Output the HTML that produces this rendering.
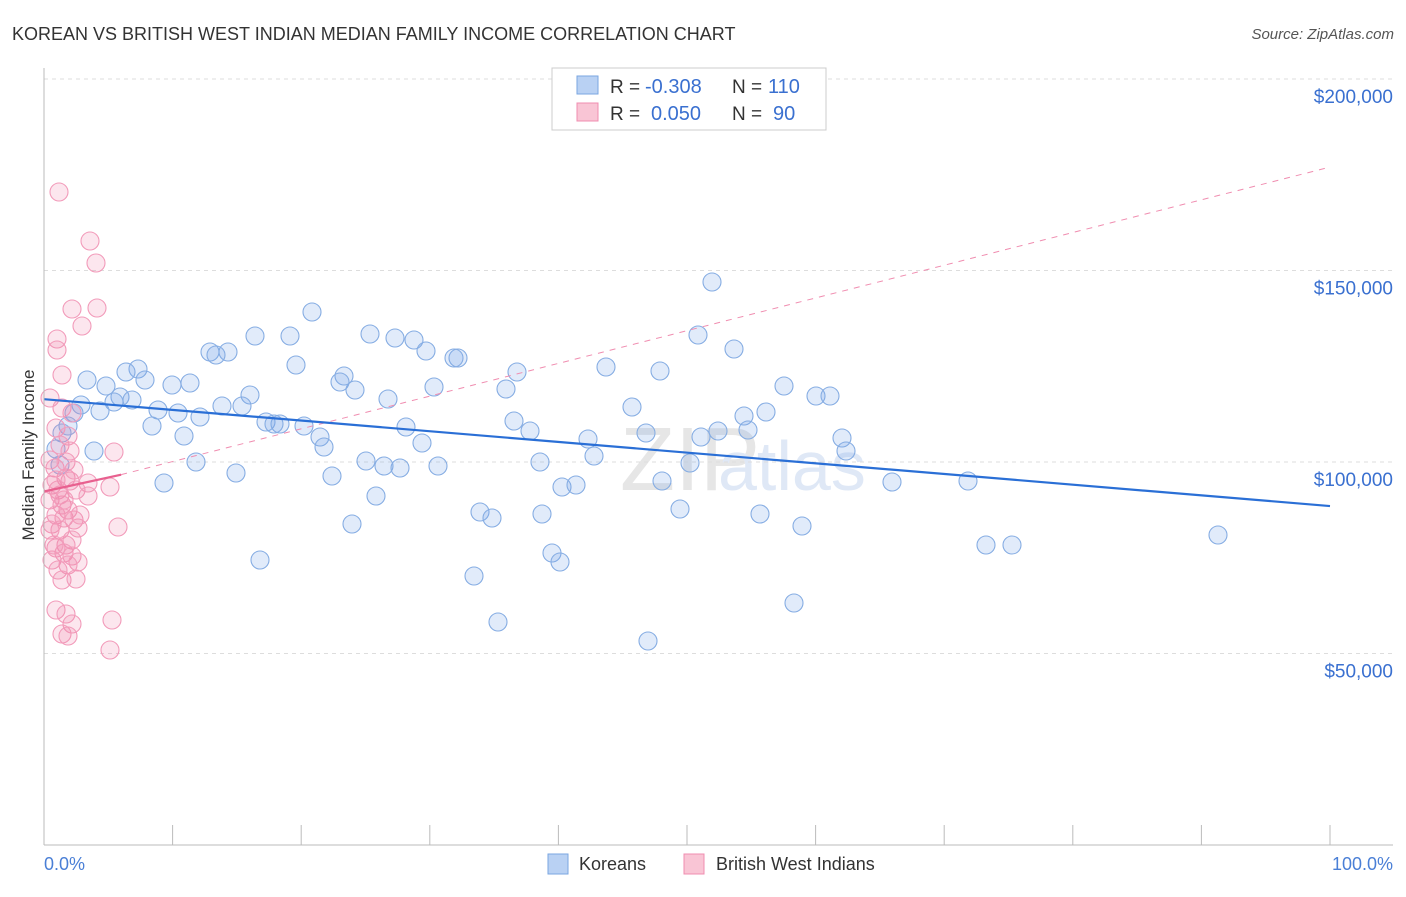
<!DOCTYPE html>
<html><head><meta charset="utf-8"><style>
body{margin:0;background:#fff;font-family:"Liberation Sans",sans-serif;}
svg text{font-family:"Liberation Sans",sans-serif;}
</style></head><body>
<svg id="c" width="1406" height="892" xmlns="http://www.w3.org/2000/svg">
<text x="12" y="40" font-size="18" fill="#333">KOREAN VS BRITISH WEST INDIAN MEDIAN FAMILY INCOME CORRELATION CHART</text>
<text x="1394" y="39" font-size="15" fill="#555" text-anchor="end" font-style="italic">Source: ZipAtlas.com</text>
<text x="34" y="455" font-size="17" fill="#333" text-anchor="middle" transform="rotate(-90 34 455)">Median Family Income</text>
<text x="620" y="490" font-size="90" fill="#e6e6e6" font-family="Liberation Serif">ZIP</text>
<text x="718" y="490" font-size="70" fill="#dfe8f6">atlas</text>
<g id="grid"></g><g id="pts"></g><g id="lines"></g>
<line x1="44" y1="68" x2="44" y2="845" stroke="#bbb"/>
<line x1="44" y1="845" x2="1393" y2="845" stroke="#bbb"/>
<text x="44" y="870" font-size="18" fill="#4a7fd6">0.0%</text>
<text x="1393" y="870" font-size="18" fill="#4a7fd6" text-anchor="end">100.0%</text>
<g>
<rect x="552" y="68" width="274" height="62" fill="#fff" stroke="#ccc"/>
<rect x="577" y="76" width="21" height="18" fill="#b9d1f3" stroke="#7aa6e0"/>
<rect x="577" y="103" width="21" height="18" fill="#f9c5d5" stroke="#f08db0"/>
<text x="610" y="93" font-size="19" fill="#333">R =</text>
<text x="645" y="93" font-size="20" fill="#3a70d0">-0.308</text>
<text x="732" y="93" font-size="19" fill="#333">N =</text>
<text x="768" y="93" font-size="20" fill="#3a70d0">110</text>
<text x="610" y="120" font-size="19" fill="#333">R =</text>
<text x="651" y="120" font-size="20" fill="#3a70d0">0.050</text>
<text x="732" y="120" font-size="19" fill="#333">N =</text>
<text x="773" y="120" font-size="20" fill="#3a70d0">90</text>
</g>
<g>
<rect x="548" y="854" width="20" height="20" fill="#b9d1f3" stroke="#7aa6e0"/>
<text x="579" y="870" font-size="18" fill="#333">Koreans</text>
<rect x="684" y="854" width="20" height="20" fill="#f9c5d5" stroke="#f08db0"/>
<text x="716" y="870" font-size="18" fill="#333">British West Indians</text>
</g>
</svg>
<script>
const yTicks=[50000,100000,150000,200000];
const yTickLabels=["$50,000","$100,000","$150,000","$200,000"];
const blueX=[712,312,698,255,290,370,395,414,426,210,228,216,734,458,454,296,606,660,138,126,517,344,87,106,145,172,190,340,434,355,506,784,816,830,250,120,132,114,81,388,222,242,158,178,200,632,100,74,766,744,514,266,280,274,304,152,68,406,530,718,748,646,62,184,320,588,701,842,422,324,56,94,846,594,196,366,384,400,438,540,690,60,236,332,164,662,892,968,562,576,376,480,492,542,680,760,352,802,1218,986,1012,552,260,560,474,794,498,648].map(p=>(p-44)/12.86);
const blueY=[282,312,335,336,336,334,338,340,351,352,352,355,349,358,358,365,367,371,369,372,372,376,380,386,380,385,383,382,387,390,389,386,396,396,395,397,400,402,405,399,406,406,410,413,417,407,411,413,412,416,421,422,424,424,426,426,426,427,431,431,430,433,433,436,437,439,437,438,443,447,449,451,451,456,462,461,466,468,466,462,463,465,473,476,483,481,482,481,487,485,496,512,518,514,509,514,524,526,535,545,545,553,560,562,576,603,622,641].map(p=>(845-p)/191.5*50000);
const pinkX=[59,90,96,72,97,82,57,57,62,50,62,72,56,68,60,70,114,50,55,66,70,52,88,58,76,110,88,50,62,68,56,64,74,52,78,60,118,72,66,56,64,72,52,78,68,58,62,76,56,66,72,112,62,68,110,50,54,60,66,74,56,64,80].map(p=>(p-44)/12.86);
const pinkY=[192,241,263,309,308,326,339,350,375,398,408,413,428,436,445,451,452,460,468,478,481,485,483,490,490,487,496,500,505,510,515,518,520,524,528,530,527,540,545,548,553,556,560,562,565,570,580,579,610,614,624,620,634,636,650,530,545,495,462,470,480,500,515].map(p=>(845-p)/191.5*50000);
const blueTrend=[[0,116400],[100,88500]];
const pinkTrend=[[0,92300],[6,96700]];
const pinkDash=[[6,96700],[100,177000]];
const xs=v=>44+v*12.86, ys=v=>845-v/50000*191.5;
const NS="http://www.w3.org/2000/svg";
function mk(t,a,p){const e=document.createElementNS(NS,t);for(const k in a)e.setAttribute(k,a[k]);p.appendChild(e);return e;}
const g=document.getElementById('grid');
yTicks.forEach((t,i)=>{const l=mk('line',{x1:44,x2:1393,y1:ys(t),y2:ys(t),stroke:'#ddd','stroke-dasharray':'4,4'},g);


const tx=mk('text',{x:1393,y:ys(t)+24,'font-size':19,fill:'#3a70d0','text-anchor':'end'},g);tx.textContent=yTickLabels[i];

});
for(let i=1;i<=10;i++){const l=mk('line',{x1:xs(i*10),x2:xs(i*10),y1:825,y2:845,stroke:'#bbb'},g);

}
const P=document.getElementById('pts');
blueX.forEach((x,i)=>{const c=mk('circle',{cx:xs(x),cy:ys(blueY[i]),r:9,fill:'rgba(120,165,230,0.22)',stroke:'#86ade3','stroke-width':1.1},P);

});
pinkX.forEach((x,i)=>{const c=mk('circle',{cx:xs(x),cy:ys(pinkY[i]),r:9,fill:'rgba(240,130,170,0.2)',stroke:'#f29bba','stroke-width':1.1},P);

});
const L=document.getElementById('lines');
function ln(d,st,dash,w,name){const l=mk('line',{x1:xs(d[0][0]),y1:ys(d[0][1]),x2:xs(d[1][0]),y2:ys(d[1][1]),stroke:st,'stroke-width':w},L);if(dash)l.setAttribute('stroke-dasharray',dash);

}
ln(pinkDash,'#f08db0','6,6',1,'bwi-trend-dashed');
ln(blueTrend,'#2a6fd6',null,2.2,'korean-trend-line');
ln(pinkTrend,'#e8608f',null,2.2,'bwi-trend-line');
</script>
</body></html>
